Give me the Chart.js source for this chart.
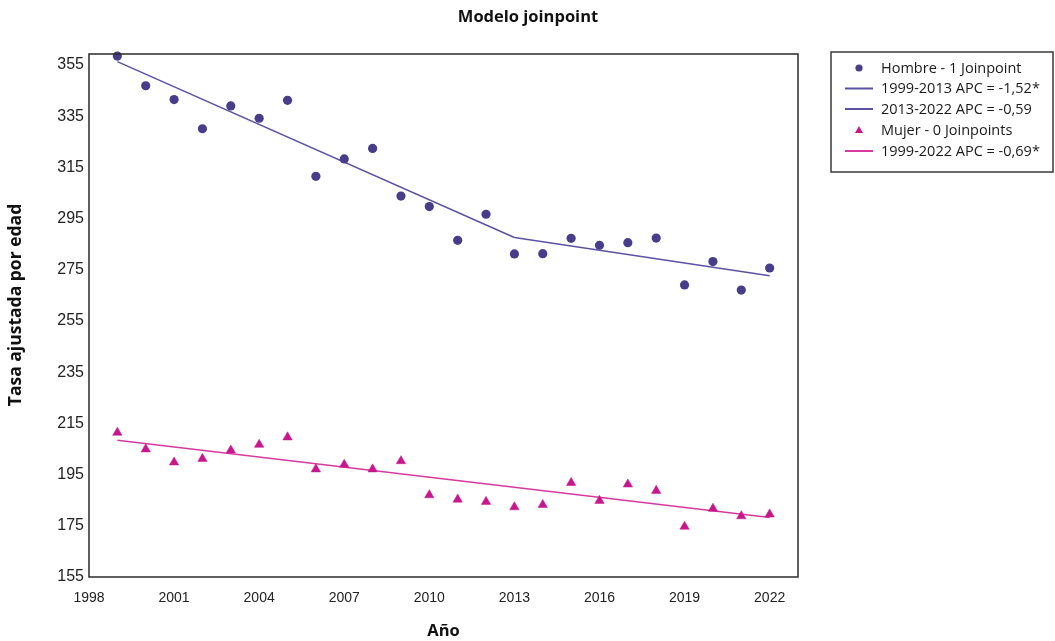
<!DOCTYPE html>
<html>
<head>
<meta charset="utf-8">
<script src="https://cdn.jsdelivr.net/npm/chart.js@4.4.1/dist/chart.umd.min.js"></script>
<style>
  html, body { margin: 0; padding: 0; background: #ffffff; }
  #wrap { width: 1055px; height: 641px; position: relative; }
</style>
</head>
<body>
<div id="wrap"><canvas id="c" width="1055" height="641"></canvas></div>
<script>
// Observed age-adjusted rates per year
const years = [1999, 2000, 2001, 2002, 2003, 2004, 2005, 2006, 2007, 2008, 2009, 2010,
               2011, 2012, 2013, 2014, 2015, 2016, 2017, 2018, 2019, 2020, 2021, 2022];
const hombre = [358.5, 346.9, 341.5, 330.1, 339.0, 334.2, 341.2, 311.5, 318.3, 322.4, 303.8, 299.7,
                286.5, 296.7, 281.2, 281.3, 287.3, 284.6, 285.6, 287.4, 269.1, 278.2, 267.1, 275.7];
const mujer = [211.4, 204.9, 199.8, 201.2, 204.5, 206.7, 209.6, 197.1, 198.9, 197.1, 200.3, 187.0,
               185.3, 184.4, 182.3, 183.2, 191.8, 184.8, 191.2, 188.7, 174.7, 181.7, 178.8, 179.5];

// Joinpoint fitted segments
const hombreSeg1Years = [1999, 2013];
const hombreSeg1 = [356.3, 287.6];
const hombreSeg2Years = [2013, 2022];
const hombreSeg2 = [287.6, 272.7];
const mujerSegYears = [1999, 2022];
const mujerSeg = [208.4, 178.2];

// Axis ticks
const yTicks = [155, 175, 195, 215, 235, 255, 275, 295, 315, 335, 355];
const xTicks = [1998, 2001, 2004, 2007, 2010, 2013, 2016, 2019, 2022];

const labels = {
  hombre: 'Hombre - 1 Joinpoint',
  hombreSeg1: '1999-2013 APC = -1,52*',
  hombreSeg2: '2013-2022 APC = -0,59',
  mujer: 'Mujer - 0 Joinpoints',
  mujerSeg: '1999-2022 APC = -0,69*'
};

const HOMBRE_PT = 'rgb(72, 61, 139)';
const HOMBRE_LN = 'rgb(92, 82, 164)';
const MUJER_PT = 'rgb(200, 22, 140)';
const MUJER_LN = 'rgb(214, 58, 160)';

const pts = (xs, ys) => xs.map((x, i) => ({ x: x, y: ys[i] }));

// Plot frame drawn around the chart area
const framePlugin = {
  id: 'frame',
  afterDraw(chart) {
    const { ctx, chartArea: a } = chart;
    ctx.save();
    ctx.strokeStyle = '#2b2b2b';
    ctx.lineWidth = 1.5;
    ctx.strokeRect(a.left, a.top, a.right - a.left, a.bottom - a.top);
    ctx.restore();
  }
};

// Main title and vertical axis title
const titlePlugin = {
  id: 'titles',
  afterDraw(chart) {
    const { ctx } = chart;
    ctx.save();
    ctx.fillStyle = '#111111';
    ctx.font = 'bold 16.5px "Open Sans", "Noto Sans", sans-serif';
    ctx.textAlign = 'center';
    ctx.textBaseline = 'middle';
    ctx.fillText('Modelo joinpoint', 528, 17);
    ctx.translate(16, 305);
    ctx.rotate(-Math.PI / 2);
    ctx.font = 'bold 17.5px "Open Sans", "Noto Sans", sans-serif';
    ctx.fillText('Tasa ajustada por edad', 0, 0);
    ctx.restore();
  }
};

// Boxed legend to the right of the plot
const legendOrder = [0, 2, 3, 1, 4];
const legendPlugin = {
  id: 'boxLegend',
  afterDraw(chart) {
    const { ctx } = chart;
    const box = { x: 831, y: 52, w: 222, h: 120 };
    const rowY = [68, 88.5, 109, 130, 151];
    ctx.save();
    ctx.fillStyle = '#ffffff';
    ctx.fillRect(box.x, box.y, box.w, box.h);
    ctx.strokeStyle = '#3a3a3a';
    ctx.lineWidth = 1.5;
    ctx.strokeRect(box.x, box.y, box.w, box.h);
    ctx.font = '14.5px "Open Sans", "Noto Sans", sans-serif';
    ctx.textBaseline = 'middle';
    ctx.textAlign = 'left';
    legendOrder.forEach((di, r) => {
      const ds = chart.data.datasets[di];
      const y = rowY[r];
      if (ds.showLine) {
        ctx.strokeStyle = ds.borderColor;
        ctx.lineWidth = 2;
        ctx.beginPath();
        ctx.moveTo(845, y);
        ctx.lineTo(873, y);
        ctx.stroke();
      } else if (ds.pointStyle === 'triangle') {
        ctx.fillStyle = ds.pointBackgroundColor;
        ctx.beginPath();
        ctx.moveTo(859, y - 4);
        ctx.lineTo(863, y + 3);
        ctx.lineTo(855, y + 3);
        ctx.closePath();
        ctx.fill();
      } else {
        ctx.fillStyle = ds.pointBackgroundColor;
        ctx.beginPath();
        ctx.arc(859, y, 3.6, 0, Math.PI * 2);
        ctx.fill();
      }
      ctx.fillStyle = '#1a1a1a';
      ctx.fillText(ds.label, 881, y + 0.5);
    });
    ctx.restore();
  }
};

new Chart(document.getElementById('c'), {
  type: 'scatter',
  data: {
    datasets: [
      {
        label: labels.hombre,
        data: pts(years, hombre),
        pointStyle: 'circle',
        pointRadius: 4.6,
        pointBackgroundColor: HOMBRE_PT,
        pointBorderColor: HOMBRE_PT,
        pointBorderWidth: 0,
        showLine: false,
        clip: false,
        order: 0
      },
      {
        label: labels.mujer,
        data: pts(years, mujer),
        pointStyle: 'triangle',
        pointRadius: 5.4,
        pointBackgroundColor: MUJER_PT,
        pointBorderColor: MUJER_PT,
        pointBorderWidth: 0.5,
        showLine: false,
        clip: false,
        order: 0
      },
      {
        label: labels.hombreSeg1,
        data: pts(hombreSeg1Years, hombreSeg1),
        showLine: true,
        borderColor: HOMBRE_LN,
        borderWidth: 1.5,
        pointRadius: 0,
        order: 1
      },
      {
        label: labels.hombreSeg2,
        data: pts(hombreSeg2Years, hombreSeg2),
        showLine: true,
        borderColor: HOMBRE_LN,
        borderWidth: 1.5,
        pointRadius: 0,
        order: 1
      },
      {
        label: labels.mujerSeg,
        data: pts(mujerSegYears, mujerSeg),
        showLine: true,
        borderColor: MUJER_LN,
        borderWidth: 1.5,
        pointRadius: 0,
        order: 1
      }
    ]
  },
  options: {
    responsive: false,
    animation: false,
    devicePixelRatio: 1,
    layout: { padding: { top: 54, right: 257, bottom: 0, left: 0 } },
    plugins: {
      legend: { display: false },
      title: { display: false },
      tooltip: { enabled: false }
    },
    scales: {
      x: {
        type: 'linear',
        min: 1998,
        max: 2023,
        grid: { display: false, drawTicks: false },
        border: { display: false },
        afterBuildTicks(scale) { scale.ticks = xTicks.map(v => ({ value: v })); },
        afterFit(scale) { scale.height = 64; },
        ticks: {
          padding: 13,
          color: '#222222',
          font: { family: '"Liberation Sans", Arial, sans-serif', size: 14 },
          maxRotation: 0,
          autoSkip: false,
          callback: v => String(v)
        },
        title: {
          display: true,
          text: 'Año',
          color: '#111111',
          font: { family: '"Open Sans", "Noto Sans", sans-serif', size: 16.5, weight: 'bold' },
          padding: { top: 0, bottom: 0 }
        }
      },
      y: {
        type: 'linear',
        min: 155,
        max: 359.3,
        grid: { display: false, drawTicks: false },
        border: { display: false },
        afterBuildTicks(scale) { scale.ticks = yTicks.map(v => ({ value: v })); },
        afterFit(scale) { scale.width = 89; },
        ticks: {
          padding: 5,
          color: '#222222',
          font: { family: '"Liberation Sans", Arial, sans-serif', size: 16 },
          autoSkip: false,
          callback: v => String(v)
        }
      }
    }
  },
  plugins: [framePlugin, titlePlugin, legendPlugin]
});
</script>
</body>
</html>
